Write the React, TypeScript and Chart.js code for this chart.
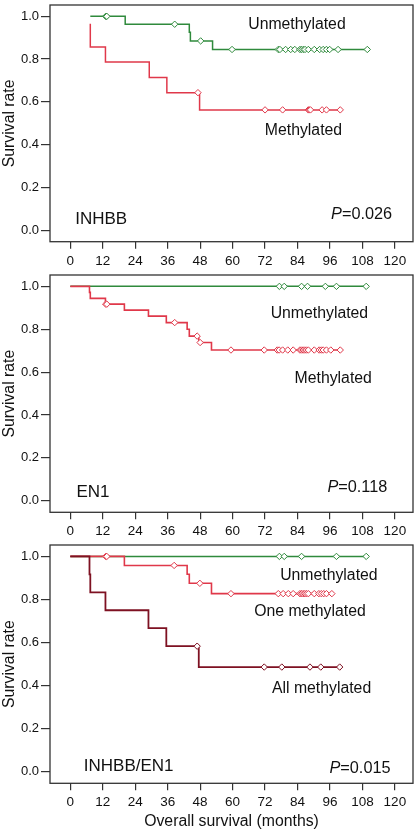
import React, { useEffect, useRef } from 'react';
import { Chart, registerables } from 'chart.js';
Chart.register(...registerables);

const FONT = '"Liberation Sans", Arial, Helvetica, sans-serif';
const GREEN = '#2f8a3c';
const RED = '#e0384a';
const DARK_RED = '#7e1122';
const INK = '#111111';
const FRAME = '#333333';

const X_TICKS = [0, 12, 24, 36, 48, 60, 72, 84, 96, 108, 120];
const Y_TICKS = [0, 0.2, 0.4, 0.6, 0.8, 1.0];

// ---- Panel 1: INHBB ----
const INHBB_UNMETH_START = [7.4, 1.0];
const INHBB_UNMETH_EVENT_MONTHS = [20.3, 44.0, 44.4, 52.6];
const INHBB_UNMETH_EVENT_SURV = [0.963, 0.926, 0.885, 0.845];
const INHBB_UNMETH_CENSOR_MONTHS = [13.1, 13.3, 13.5, 38.6, 48.2, 59.8, 76.9, 77.5, 79.6, 81.5, 83.0, 84.9, 85.5, 86.2, 86.8, 88.0, 90.2, 92.2, 93.5, 94.7, 95.9, 99.0, 109.8];

const INHBB_METH_START = [7.4, 0.965];
const INHBB_METH_EVENT_MONTHS = [7.4, 13.0, 29.2, 35.7, 47.8];
const INHBB_METH_EVENT_SURV = [0.857, 0.786, 0.714, 0.643, 0.5625];
const INHBB_METH_CENSOR_MONTHS = [47.2, 72.0, 78.5, 88.0, 88.4, 88.8, 93.1, 94.7, 99.8];

// ---- Panel 2: EN1 ----
const EN1_UNMETH_START = [0, 1.0];
const EN1_UNMETH_EVENT_MONTHS: number[] = [];
const EN1_UNMETH_EVENT_SURV: number[] = [];
const EN1_UNMETH_CENSOR_MONTHS = [77.3, 79.1, 85.5, 87.7, 94.3, 98.4, 109.4];

const EN1_METH_START = [0, 1.0];
const EN1_METH_EVENT_MONTHS = [7.1, 7.4, 13.0, 20.0, 28.9, 35.5, 43.2, 44.0, 47.5, 52.2];
const EN1_METH_EVENT_SURV = [0.972, 0.944, 0.917, 0.889, 0.861, 0.831, 0.8, 0.768, 0.738, 0.703];
const EN1_METH_CENSOR_MONTHS = [13.1, 13.5, 38.6, 46.9, 48.0, 59.4, 71.7, 76.5, 77.2, 78.5, 80.4, 82.4, 84.9, 85.5, 86.1, 86.7, 87.3, 88.0, 90.2, 92.0, 92.8, 93.5, 94.7, 96.3, 99.8];

// ---- Panel 3: INHBB/EN1 ----
const BOTH_UNMETH_START = [0, 1.0];
const BOTH_UNMETH_EVENT_MONTHS: number[] = [];
const BOTH_UNMETH_EVENT_SURV: number[] = [];
const BOTH_UNMETH_CENSOR_MONTHS = [77.3, 79.1, 85.5, 98.4, 109.4];

const ONE_METH_START = [0, 1.0];
const ONE_METH_EVENT_MONTHS = [20.0, 43.2, 44.0, 52.2];
const ONE_METH_EVENT_SURV = [0.958, 0.917, 0.875, 0.827];
const ONE_METH_CENSOR_MONTHS = [13.1, 13.5, 38.4, 47.9, 59.4, 76.9, 78.7, 80.6, 82.4, 84.9, 85.5, 86.1, 86.7, 87.3, 88.0, 90.2, 91.9, 92.8, 93.7, 94.7, 96.7];

const ALL_METH_START = [0, 1.0];
const ALL_METH_EVENT_MONTHS = [7.1, 7.4, 13.0, 28.9, 35.5, 47.5];
const ALL_METH_EVENT_SURV = [0.917, 0.833, 0.75, 0.667, 0.583, 0.486];
const ALL_METH_CENSOR_MONTHS = [46.9, 71.7, 78.2, 88.6, 92.6, 99.6];

type Curve = { start: number[]; evM: number[]; evS: number[]; cens: number[]; color: string; width: number };

function survAt(c: Curve, t: number) {
  let s = c.start[1];
  c.evM.forEach((m, i) => { if (m <= t) s = c.evS[i]; });
  return s;
}

function stepPoints(c: Curve) {
  const pts = [{ x: c.start[0], y: c.start[1] }];
  c.evM.forEach((m, i) => pts.push({ x: m, y: c.evS[i] }));
  const end = Math.max(...c.cens, ...(c.evM.length ? c.evM : [c.start[0]]));
  pts.push({ x: end, y: pts[pts.length - 1].y });
  return pts;
}

type Label = { text: string; x: number; y: number; align: 'left' | 'center' | 'right'; size: number; italicPrefix?: string };

const boxText = {
  id: 'boxText',
  afterDraw(chart: any, _args: any, opts: any) {
    const { ctx, chartArea: a, scales } = chart;
    ctx.save();
    ctx.strokeStyle = FRAME;
    ctx.lineWidth = 1.3;
    ctx.strokeRect(a.left, a.top, a.right - a.left, a.bottom - a.top);
    ctx.fillStyle = INK;
    ctx.textBaseline = 'alphabetic';
    for (const lab of (opts.labels || []) as Label[]) {
      const px = scales.x.getPixelForValue(lab.x);
      const py = scales.y.getPixelForValue(lab.y);
      if (lab.italicPrefix) {
        ctx.font = `italic ${lab.size}px ${FONT}`;
        const w1 = ctx.measureText(lab.italicPrefix).width;
        ctx.font = `${lab.size}px ${FONT}`;
        const w2 = ctx.measureText(lab.text).width;
        let x0 = px;
        if (lab.align === 'right') x0 = px - w1 - w2;
        else if (lab.align === 'center') x0 = px - (w1 + w2) / 2;
        ctx.textAlign = 'left';
        ctx.font = `italic ${lab.size}px ${FONT}`;
        ctx.fillText(lab.italicPrefix, x0, py);
        ctx.font = `${lab.size}px ${FONT}`;
        ctx.fillText(lab.text, x0 + w1, py);
      } else {
        ctx.font = `${lab.size}px ${FONT}`;
        ctx.textAlign = lab.align;
        ctx.fillText(lab.text, px, py);
      }
    }
    ctx.restore();
  },
};

type PanelCfg = { top: number; height: number; padTop: number; xAxisH: number; xTitle?: string; curves: Curve[]; labels: Label[] };

const PANELS: PanelCfg[] = [
  {
    top: 0, height: 270, padTop: 3.3, xAxisH: 28.3,
    curves: [
      { start: INHBB_METH_START, evM: INHBB_METH_EVENT_MONTHS, evS: INHBB_METH_EVENT_SURV, cens: INHBB_METH_CENSOR_MONTHS, color: RED, width: 1.5 },
      { start: INHBB_UNMETH_START, evM: INHBB_UNMETH_EVENT_MONTHS, evS: INHBB_UNMETH_EVENT_SURV, cens: INHBB_UNMETH_CENSOR_MONTHS, color: GREEN, width: 1.5 },
    ],
    labels: [
      { text: 'Unmethylated', x: 83.8, y: 0.943, align: 'center', size: 15.8 },
      { text: 'Methylated', x: 86.2, y: 0.445, align: 'center', size: 15.8 },
      { text: 'INHBB', x: 1.8, y: 0.031, align: 'left', size: 17 },
      { text: '=0.026', italicPrefix: 'P', x: 119, y: 0.054, align: 'right', size: 16.3 },
    ],
  },
  {
    top: 270, height: 270, padTop: 3.3, xAxisH: 27.7,
    curves: [
      { start: EN1_METH_START, evM: EN1_METH_EVENT_MONTHS, evS: EN1_METH_EVENT_SURV, cens: EN1_METH_CENSOR_MONTHS, color: RED, width: 1.6 },
      { start: EN1_UNMETH_START, evM: EN1_UNMETH_EVENT_MONTHS, evS: EN1_UNMETH_EVENT_SURV, cens: EN1_UNMETH_CENSOR_MONTHS, color: GREEN, width: 1.5 },
    ],
    labels: [
      { text: 'Unmethylated', x: 92.1, y: 0.853, align: 'center', size: 15.8 },
      { text: 'Methylated', x: 97.2, y: 0.547, align: 'center', size: 15.8 },
      { text: 'EN1', x: 2.3, y: 0.0185, align: 'left', size: 17 },
      { text: '=0.118', italicPrefix: 'P', x: 117.2, y: 0.042, align: 'right', size: 16.3 },
    ],
  },
  {
    top: 540, height: 290, padTop: 4.3, xAxisH: 46.7, xTitle: 'Overall survival (months)',
    curves: [
      { start: ALL_METH_START, evM: ALL_METH_EVENT_MONTHS, evS: ALL_METH_EVENT_SURV, cens: ALL_METH_CENSOR_MONTHS, color: DARK_RED, width: 1.8 },
      { start: ONE_METH_START, evM: ONE_METH_EVENT_MONTHS, evS: ONE_METH_EVENT_SURV, cens: ONE_METH_CENSOR_MONTHS, color: RED, width: 1.6 },
      { start: BOTH_UNMETH_START, evM: BOTH_UNMETH_EVENT_MONTHS, evS: BOTH_UNMETH_EVENT_SURV, cens: BOTH_UNMETH_CENSOR_MONTHS, color: GREEN, width: 1.5 },
    ],
    labels: [
      { text: 'Unmethylated', x: 95.6, y: 0.892, align: 'center', size: 15.8 },
      { text: 'One methylated', x: 88.6, y: 0.722, align: 'center', size: 15.8 },
      { text: 'All methylated', x: 92.9, y: 0.367, align: 'center', size: 15.8 },
      { text: 'INHBB/EN1', x: 5.0, y: 0.005, align: 'left', size: 17 },
      { text: '=0.015', italicPrefix: 'P', x: 118.4, y: -0.007, align: 'right', size: 16.3 },
    ],
  },
];

function zeroPad(s: any) {
  s.paddingTop = 0;
  s.paddingBottom = 0;
  s.paddingLeft = 0;
  s.paddingRight = 0;
}

function Panel({ cfg }: { cfg: PanelCfg }) {
  const ref = useRef<HTMLCanvasElement>(null);
  useEffect(() => {
    const datasets: any[] = [];
    cfg.curves.forEach((c, k) => {
      datasets.push({
        type: 'scatter',
        data: c.cens.map((t) => ({ x: t, y: survAt(c, t) })),
        showLine: false,
        pointStyle: 'rectRot',
        pointRadius: 3.2,
        pointBorderWidth: 1,
        borderColor: c.color,
        backgroundColor: '#ffffff',
        order: 2 * k,
      });
      datasets.push({
        type: 'line',
        data: stepPoints(c),
        stepped: true,
        borderColor: c.color,
        borderWidth: c.width,
        pointRadius: 0,
        fill: false,
        order: 2 * k + 1,
      });
    });
    const chart = new Chart(ref.current as HTMLCanvasElement, {
      type: 'line',
      data: { datasets },
      plugins: [boxText],
      options: {
        animation: false,
        responsive: false,
        devicePixelRatio: 1,
        layout: { padding: { top: cfg.padTop, right: 2.5, left: 0, bottom: 0 } },
        plugins: {
          legend: { display: false },
          tooltip: { enabled: false },
          boxText: { labels: cfg.labels },
        } as any,
        scales: {
          x: {
            type: 'linear',
            min: -7.5,
            max: 126.7,
            afterBuildTicks: (s: any) => { s.ticks = X_TICKS.map((v) => ({ value: v })); },
            afterFit: (s: any) => { s.height = cfg.xAxisH; zeroPad(s); },
            grid: { display: true, drawOnChartArea: false, drawTicks: true, tickLength: 7, color: FRAME, lineWidth: 1.2 },
            border: { display: false },
            ticks: { padding: 4, color: INK, font: { family: FONT, size: 13.5 }, maxRotation: 0, autoSkip: false, callback: (v: any) => String(v) },
            title: cfg.xTitle
              ? { display: true, text: cfg.xTitle, color: INK, font: { family: FONT, size: 15.8, lineHeight: 1.1 }, padding: { top: 0, bottom: 0 } }
              : { display: false },
          },
          y: {
            type: 'linear',
            min: -0.054,
            max: 1.053,
            afterBuildTicks: (s: any) => { s.ticks = Y_TICKS.map((v) => ({ value: v })); },
            afterFit: (s: any) => { s.width = 50; zeroPad(s); },
            grid: { display: true, drawOnChartArea: false, drawTicks: true, tickLength: 9, color: FRAME, lineWidth: 1.2 },
            border: { display: false },
            ticks: { padding: 2, color: INK, font: { family: FONT, size: 13 }, autoSkip: false, callback: (v: any) => Number(v).toFixed(1) },
            title: { display: true, text: 'Survival rate', color: INK, font: { family: FONT, size: 15.8, lineHeight: 1.1 }, padding: { top: 0.8, bottom: 0 } },
          },
        },
      },
    } as any);
    return () => chart.destroy();
  }, [cfg]);
  return (
    <canvas
      ref={ref}
      width={418}
      height={cfg.height}
      style={{ position: 'absolute', left: 0, top: cfg.top, width: 418, height: cfg.height, display: 'block' }}
    />
  );
}

export default function App() {
  return (
    <div style={{ position: 'absolute', left: 0, top: 0, width: 418, height: 830, background: '#ffffff' }}>
      {PANELS.map((p, i) => (
        <Panel key={i} cfg={p} />
      ))}
    </div>
  );
}
